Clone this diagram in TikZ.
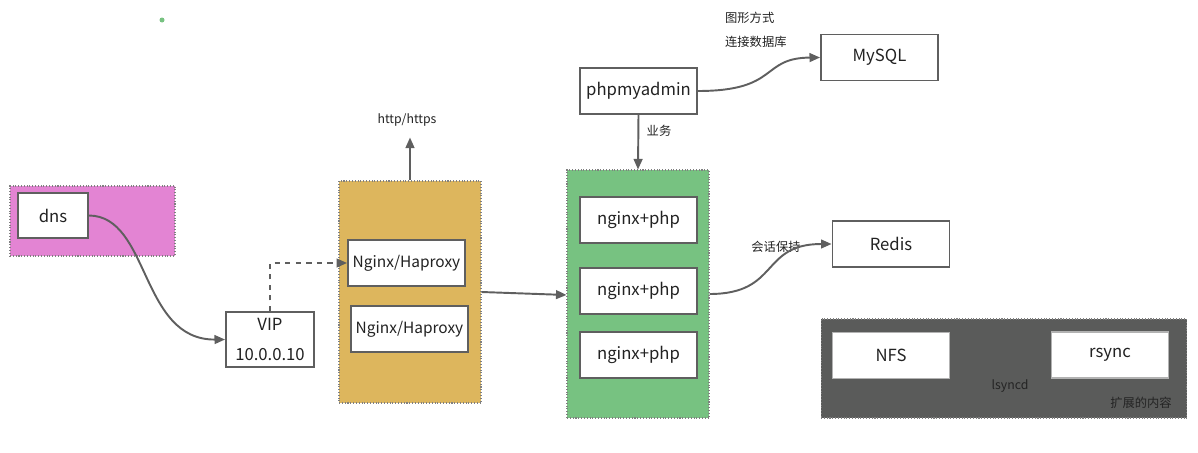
\documentclass[tikz,border=0pt]{standalone}
\usepackage{fontspec}
\setmainfont{Noto Sans CJK SC}
\usetikzlibrary{arrows.meta,positioning}
\definecolor{orchid}{HTML}{E384D3}
\definecolor{mustard}{HTML}{DDB65D}
\definecolor{leaf}{HTML}{77C281}
\definecolor{slate}{HTML}{5A5B5A}
\definecolor{edge}{HTML}{5F5F5F}
\definecolor{ink}{HTML}{222222}
\tikzset{
  svcbox/.style={
    rectangle, draw=edge, fill=white, line width=1.1pt,
    minimum width=2.34cm, minimum height=0.92cm,
    font=\fontsize{9.5}{11}\selectfont, text=ink, align=center,
    inner sep=2pt
  },
  groupbox/.style={
    rectangle, draw=gray, densely dotted, fill=#1, line width=0.6pt,
    inner sep=0pt
  },
  groupbox/.default=leaf,
  flow/.style={
    -{Triangle[length=6pt,width=5pt]}, line width=1.1pt, color=edge
  },
  note/.style={font=\fontsize{7}{9}\selectfont, text=ink, inner sep=1pt},
}
\begin{document}
\begin{tikzpicture}[x=0.02cm, y=-0.02cm]
  \useasboundingbox (0,0) rectangle (1198,453);
  % groups
  \node[groupbox=orchid, minimum width=3.3cm, minimum height=1.4cm] (gdns) at (92.5,221) {};
  \node[groupbox=mustard, minimum width=2.84cm, minimum height=4.44cm] (glb) at (410,292) {};
  \node[groupbox=leaf, minimum width=2.84cm, minimum height=4.96cm] (gweb) at (638,294) {};
  \node[groupbox=slate, minimum width=7.32cm, minimum height=1.98cm] (gext) at (1004,368.5) {};
  \fill[leaf] (162,20) circle (2.5);
  % services
  \node[svcbox, minimum width=1.4cm, minimum height=0.9cm] (dns) at (53,215.5) {dns};
  \node[svcbox, minimum width=1.76cm, minimum height=1.1cm] (vip) at (270,339.5) {VIP\\[6pt]10.0.0.10};
  \node[svcbox, font=\fontsize{8.8}{11}\selectfont] (lb1) at (406.5,263) {Nginx/Haproxy};
  \node[svcbox, font=\fontsize{8.8}{11}\selectfont] (lb2) at (409.5,329) {Nginx/Haproxy};
  \node[svcbox] (web1) at (638.5,220) {nginx+php};
  \node[svcbox] (web2) at (638.5,291) {nginx+php};
  \node[svcbox] (web3) at (638.5,355) {nginx+php};
  \node[svcbox] (pma) at (638.5,91) {phpmyadmin};
  \node[svcbox] (mysql) at (879.5,57.5) {MySQL};
  \node[svcbox] (redis) at (891,244) {Redis};
  \node[svcbox, draw=gray!60] (nfs) at (891,355.5) {NFS};
  \node[svcbox, draw=gray!60] (rsync) at (1110,355) {rsync};
  % labels
  \node[note] (http) at (407,120) {http/https};
  \node[note, anchor=west] (gui1) at (723,18) {图形方式};
  \node[note, anchor=west] (gui2) at (723,42) {连接数据库};
  \node[note] (biz) at (659,131) {业务};
  \node[note] (sess) at (776,247) {会话保持};
  \node[note, text=slate!40!black] (lsync) at (1010,386) {lsyncd};
  \node[note, text=slate!40!black] (extra) at (1141,403) {扩展的内容};
  % connectors
  \draw[flow] (dns.east) .. controls (150,216) and (140,340) .. (vip.west);
  \draw[flow, dashed] (vip.north) |- (lb1.west);
  \draw[flow] (glb.north) -- ++(0,-43);
  \draw[flow] (glb.east |- 0,292) -- (gweb.west |- 0,295);
  \draw[flow] (pma.south) -- (gweb.north);
  \draw[flow] (pma.east) .. controls (780,91) and (760,58) .. (mysql.west);
  \draw[flow] (gweb.east |- 0,294) .. controls (780,294) and (760,244) .. (redis.west);
\end{tikzpicture}
\end{document}
